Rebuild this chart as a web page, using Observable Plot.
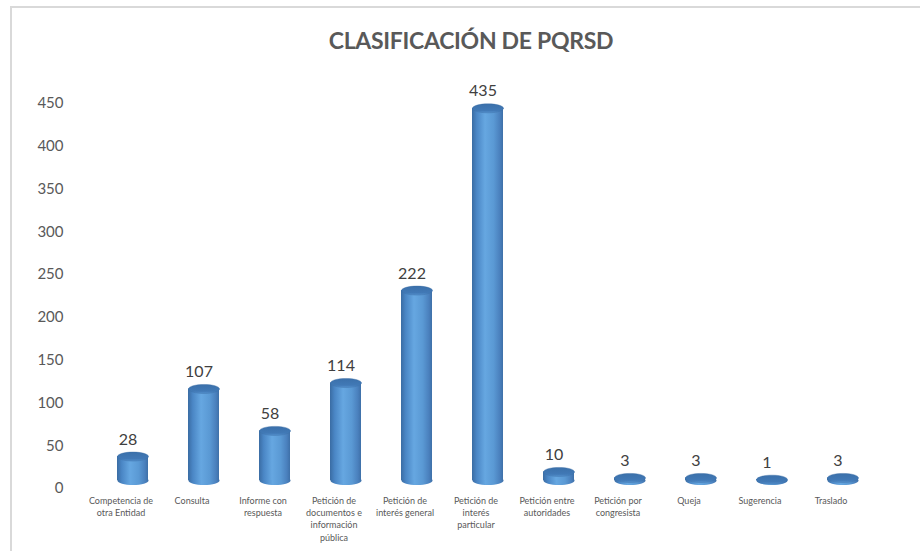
<!DOCTYPE html>
<html>
<head>
<meta charset="utf-8">
<script src="https://cdn.jsdelivr.net/npm/d3@7"></script>
<script src="https://cdn.jsdelivr.net/npm/@observablehq/plot@0.6"></script>
<style>
  html, body { margin: 0; padding: 0; background: #fff; }
  #wrap { position: relative; width: 920px; height: 551px; overflow: hidden; background: #fff; }
  #frame { position: absolute; left: 10px; top: 6px; width: 960px; height: 600px;
           border-left: 2px solid #d9d9d9; border-top: 2px solid #d9d9d9; pointer-events: none; }
  #title { box-sizing: border-box; height: 70px; padding-top: 28px; padding-left: 22px; width: 920px;
           text-align: center; font-family: Lato, "Open Sans", sans-serif; font-weight: 700;
           font-size: 23px; line-height: 24px; color: #595959; letter-spacing: -0.3px; }
  #chart svg { display: block; }
</style>
</head>
<body>
<div id="wrap">
  <div id="frame"></div>
  <div id="title">CLASIFICACIÓN DE PQRSD</div>
  <div id="chart"></div>
</div>
<script>
const categories = [
  "Competencia de otra Entidad", "Consulta", "Informe con respuesta",
  "Petición de documentos e información pública", "Petición de interés general",
  "Petición de interés particular", "Petición entre autoridades",
  "Petición por congresista", "Queja", "Sugerencia", "Traslado"
];
const counts = [28, 107, 58, 114, 222, 435, 10, 3, 3, 1, 3];
const tickLabels = [
  "Competencia de\notra Entidad", "Consulta", "Informe con\nrespuesta",
  "Petición de\ndocumentos e\ninformación\npública", "Petición de\ninterés general",
  "Petición de\ninterés\nparticular", "Petición entre\nautoridades",
  "Petición por\ncongresista", "Queja", "Sugerencia", "Traslado"
];
const yTicks = [0, 50, 100, 150, 200, 250, 300, 350, 400, 450];

const data = categories.map((c, i) => ({category: c, value: counts[i], label: tickLabels[i]}));

// ellipse symbol for the cylinder caps
const ellipse = {
  draw(ctx) {
    const rx = 15.5, ry = 4.5, k = 0.5523;
    ctx.moveTo(rx, 0);
    ctx.bezierCurveTo(rx, ry * k, rx * k, ry, 0, ry);
    ctx.bezierCurveTo(-rx * k, ry, -rx, ry * k, -rx, 0);
    ctx.bezierCurveTo(-rx, -ry * k, -rx * k, -ry, 0, -ry);
    ctx.bezierCurveTo(rx * k, -ry, rx, -ry * k, rx, 0);
    ctx.closePath();
  }
};

const plot = Plot.plot({
  width: 920,
  height: 481,
  marginLeft: 71,
  marginRight: 17,
  marginTop: 25,
  marginBottom: 71,
  style: {fontFamily: "Lato, 'Open Sans', sans-serif", background: "transparent"},
  x: {type: "band", domain: categories, padding: 0.57, axis: null},
  y: {domain: [0, 450]},
  marks: [
    Plot.axisY({ticks: yTicks, tickSize: 0, tickPadding: 8, dy: 8, fontSize: 15, color: "#595959", label: null}),
    // bottom cap
    Plot.dot(data, {x: "category", y: () => 0, symbol: ellipse, fill: "url(#cylBody)", stroke: "none"}),
    // body
    Plot.barY(data, {x: "category", y: "value", fill: "url(#cylBody)"}),
    // top cap
    Plot.dot(data, {x: "category", y: "value", symbol: ellipse, fill: "url(#cylTop)", stroke: "#3a6da5", strokeWidth: 0.4}),
    // value labels
    Plot.text(data, {x: "category", y: "value", text: d => String(d.value), dy: -17, dx: -5,
      fontSize: 16, fill: "#404040"}),
    // category labels
    Plot.text(data, {x: "category", y: () => 0, text: "label", lineAnchor: "top", dy: 14.5, dx: -12,
      fontSize: 9, lineHeight: 1.37, fill: "#595959"})
  ]
});

plot.insertAdjacentHTML("afterbegin", `
<defs>
  <linearGradient id="cylBody" x1="0" y1="0" x2="1" y2="0">
    <stop offset="0" stop-color="#3a6ca3"/>
    <stop offset="0.15" stop-color="#4a86c5"/>
    <stop offset="0.42" stop-color="#66a7e1"/>
    <stop offset="0.7" stop-color="#5a99d4"/>
    <stop offset="0.9" stop-color="#4a80bd"/>
    <stop offset="1" stop-color="#3e70a8"/>
  </linearGradient>
  <linearGradient id="cylTop" x1="0" y1="0" x2="0" y2="1">
    <stop offset="0" stop-color="#3b70aa"/>
    <stop offset="0.75" stop-color="#4179b6"/>
    <stop offset="1" stop-color="#5592cf"/>
  </linearGradient>
</defs>`);

document.getElementById("chart").appendChild(plot);
</script>
</body>
</html>
